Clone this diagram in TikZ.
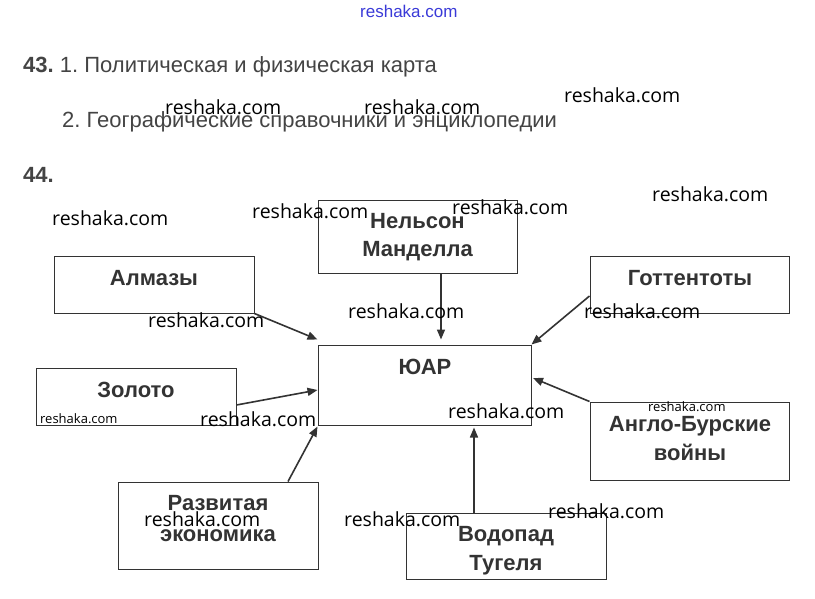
\documentclass[tikz,border=0pt]{standalone}
\usepackage{fontspec}
\setmainfont{Liberation Sans}
\newfontfamily\wmfont{Open Sans}
\usetikzlibrary{arrows.meta,calc}
\definecolor{ink}{HTML}{333333}
\definecolor{txt}{HTML}{444444}
\definecolor{wmblue}{HTML}{3A3AD8}
\frenchspacing
\begin{document}
\begin{tikzpicture}[x=1pt,y=-1pt,
  box/.style={draw=ink,line width=1pt,inner sep=0pt},
  lbl/.style={font=\fontsize{22}{26}\selectfont\bfseries, text=ink, anchor=base, inner sep=0pt},
  head/.style={font=\fontsize{22}{26}\selectfont, text=txt, anchor=base west, inner sep=0pt},
  arr/.style={draw=ink,line width=1.6pt,-{Triangle[length=10pt,width=8pt]}},
  wm/.style={font=\wmfont\fontsize{19.5}{22}\selectfont, anchor=west, inner sep=0pt, text=black},
  wms/.style={font=\wmfont\fontsize{13}{15}\selectfont, anchor=west, inner sep=0pt, text=black}]
\useasboundingbox[fill=white] (0,0) rectangle (815,598);

% header texts
\node[head] (t43) at (23,72) {\textbf{43.} 1. Политическая и физическая карта};
\node[head] (t43b) at (62,127) {2. Географические справочники и энциклопедии};
\node[head] (t44) at (23,182) {\textbf{44.}};

% boxes
\node[box, minimum width=199pt, minimum height=73pt] (nel) at (417.5,236.5) {};
\node[box, minimum width=200pt, minimum height=57pt] (alm) at (154,284.5) {};
\node[box, minimum width=199pt, minimum height=57pt] (got) at (689.5,284.5) {};
\node[box, minimum width=213pt, minimum height=80pt] (yuar) at (424.5,385) {};
\node[box, minimum width=200pt, minimum height=57pt] (zol) at (136,396.5) {};
\node[box, minimum width=199pt, minimum height=78pt] (ang) at (689.5,441) {};
\node[box, minimum width=200pt, minimum height=87pt] (raz) at (218,525.5) {};
\node[box, minimum width=200pt, minimum height=66pt] (vod) at (506,546) {};

% labels
\node[lbl] (nel1) at (417.5,228.5) {Нельсон};
\node[lbl] (nel2) at (417.5,256.5) {Манделла};
\node[lbl] (almt) at (154,285) {Алмазы};
\node[lbl] (gott) at (690,285) {Готтентоты};
\node[lbl] (yuart) at (425,374) {ЮАР};
\node[lbl] (zolt) at (136,397) {Золото};
\node[lbl] (ang1) at (690,431) {Англо-Бурские};
\node[lbl] (ang2) at (690,460) {войны};
\node[lbl] (raz1) at (218,510) {Развитая};
\node[lbl] (raz2) at (218,541) {экономика};
\node[lbl] (vod1) at (506,541.5) {Водопад};
\node[lbl] (vod2) at (506,570.5) {Тугеля};

% arrows
\draw[arr] (alm.south east) -- ($(yuar.north west)+(0,-5)$);
\draw[arr] ($(zol.east)+(0,8.5)$) -- ($(yuar.west)+(0,5)$);
\draw[arr] ($(raz.north)+(70,0)$) -- ($(yuar.south west)+(0,1)$);
\draw[arr] ($(nel.south)+(23.5,0)$) -- ($(yuar.north)+(16.5,-5)$);
\draw[arr] ($(got.west)+(0,11.5)$) -- (yuar.north east);
\draw[arr] (ang.north west) -- ($(yuar.east)+(1.5,-7)$);
\draw[arr] ($(vod.north)+(-32,0)$) -- ($(yuar.south)+(49.5,2)$);

% watermarks
\node[font=\fontsize{17}{20}\selectfont, text=wmblue, anchor=west, inner sep=0pt] (wm0) at (360,11) {reshaka.com};
\node[wm] (wm1) at (165,107) {reshaka.com};
\node[wm] (wm2) at (364,107) {reshaka.com};
\node[wm] (wm3) at (564,95) {reshaka.com};
\node[wm] (wm4) at (652,194) {reshaka.com};
\node[wm] (wm5) at (52,218) {reshaka.com};
\node[wm] (wm6) at (252,211) {reshaka.com};
\node[wm] (wm7) at (452,207) {reshaka.com};
\node[wm] (wm8) at (148,320) {reshaka.com};
\node[wm] (wm9) at (348,311) {reshaka.com};
\node[wm] (wm10) at (584,311) {reshaka.com};
\node[wms] (wm11) at (40,419) {reshaka.com};
\node[wm] (wm12) at (200,419) {reshaka.com};
\node[wm] (wm13) at (448,411) {reshaka.com};
\node[wms] (wm14) at (648,407) {reshaka.com};
\node[wm] (wm15) at (144,519) {reshaka.com};
\node[wm] (wm16) at (344,519) {reshaka.com};
\node[wm] (wm17) at (548,511) {reshaka.com};
\end{tikzpicture}
\end{document}
